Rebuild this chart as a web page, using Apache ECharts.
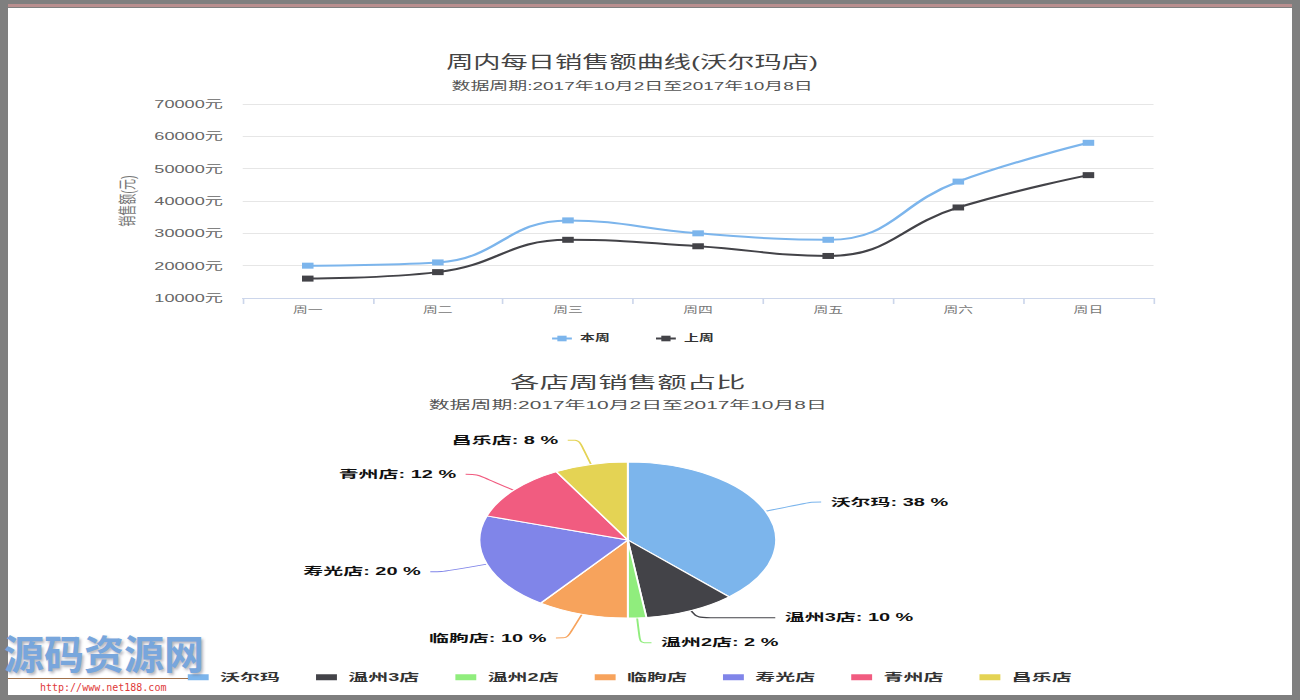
<!DOCTYPE html>
<html>
<head>
<meta charset="utf-8">
<script src="https://cdn.jsdelivr.net/npm/echarts/dist/echarts.min.js"></script>
<style>
html,body{margin:0;padding:0;width:1300px;height:700px;overflow:hidden;background:#7f7f7f;}
#panel{position:absolute;left:8px;top:8px;width:1284px;height:687px;background:#fff;}
#redline{position:absolute;left:8px;top:4px;width:1284px;height:3px;background:#b98f8f;}
#c1{position:absolute;left:-18px;top:0;width:788px;height:360px;transform:scaleX(1.65);transform-origin:0 0;}
#c2{position:absolute;left:-22px;top:355px;width:684px;height:345px;transform:scaleX(1.9);transform-origin:0 0;}
#wm{position:absolute;left:4px;top:628px;font-family:"Noto Sans CJK SC",sans-serif;font-weight:bold;font-size:40px;line-height:48px;color:#78a6dc;text-shadow:2px 2px 3px rgba(90,90,110,0.45);letter-spacing:0px;z-index:5;}
#wmline{position:absolute;left:8px;top:678px;width:180px;height:1px;background:#a0704a;z-index:5;}
#wmurl{position:absolute;left:40px;top:682px;font-family:"DejaVu Sans Mono",monospace;font-size:10px;line-height:12px;color:#e03a3a;z-index:5;}
</style>
</head>
<body>
<div id="redline"></div>
<div id="panel"></div>
<div id="c1"></div>
<div id="c2"></div>
<div id="wm">源码资源网</div>
<div id="wmline"></div>
<div id="wmurl">http://www.net188.com</div>
<script>
// ---- data ----
const lineTitle = '周内每日销售额曲线(沃尔玛店)';
const subTitle = '数据周期:2017年10月2日至2017年10月8日';
const days = ['周一', '周二', '周三', '周四', '周五', '周六', '周日'];
const seriesNames = ['本周', '上周'];
const thisWeek = [20000, 21000, 34000, 30000, 28000, 46000, 58000];
const lastWeek = [16000, 18000, 28000, 26000, 23000, 38000, 48000];
const yAxisName = '销售额(元)';
const yMin = 10000, yMax = 70000, yStep = 10000;

const pieTitle = '各店周销售额占比';
const stores = ['沃尔玛', '温州3店', '温州2店', '临朐店', '寿光店', '青州店', '昌乐店'];
const storeShare = [38, 10, 2, 10, 20, 12, 8];

const palette = ['#7cb5ec', '#434348', '#90ed7d', '#f7a35c', '#8085e9', '#f15c80', '#e4d354'];
const FF = '"Liberation Sans", "Noto Sans CJK SC", sans-serif';

// ---- line chart ----
const c1 = echarts.init(document.getElementById('c1'), null, {renderer: 'svg'});
c1.setOption({
  animation: false,
  color: [palette[0], palette[1]],
  textStyle: {fontFamily: FF},
  title: [
    {text: lineTitle, left: 'center', top: 49, textStyle: {fontSize: 16.5, fontWeight: 'normal', color: '#444', fontFamily: FF}},
    {text: subTitle, left: 'center', top: 75, textStyle: {fontSize: 11.5, fontWeight: 'normal', color: '#555', fontFamily: FF}}
  ],
  legend: {
    data: seriesNames, left: 'center', top: 329, itemWidth: 12, itemHeight: 7, itemGap: 27,
    textStyle: {fontSize: 9, fontWeight: 'bold', color: '#333'}
  },
  grid: {left: 158, right: 78, top: 104, bottom: 62, containLabel: false},
  xAxis: {
    type: 'category', data: days, boundaryGap: true,
    axisLine: {lineStyle: {color: '#ccd6eb'}},
    axisTick: {show: true, length: 6, lineStyle: {color: '#ccd6eb'}},
    axisLabel: {fontSize: 9, color: '#777', margin: 8}
  },
  yAxis: {
    type: 'value', min: yMin, max: yMax, interval: yStep,
    name: yAxisName, nameLocation: 'middle', nameGap: 55,
    nameTextStyle: {fontSize: 11, color: '#777'},
    axisLine: {show: false}, axisTick: {show: false},
    axisLabel: {fontSize: 11, color: '#666', margin: 12, formatter: v => v + '元'},
    splitLine: {lineStyle: {color: '#e6e6e6'}}
  },
  series: [
    {name: seriesNames[0], type: 'line', data: thisWeek, smooth: 0.45, symbol: 'rect', symbolSize: [7, 6],
     lineStyle: {width: 2}, itemStyle: {color: palette[0]}},
    {name: seriesNames[1], type: 'line', data: lastWeek, smooth: 0.45, symbol: 'rect', symbolSize: [7, 6],
     lineStyle: {width: 2}, itemStyle: {color: palette[1]}}
  ]
});

// ---- pie chart ----
// the label of 温州3店 sits closer to the slice with a longer horizontal connector, as in the source
const shortLeaderStore = '温州3店';
const c2 = echarts.init(document.getElementById('c2'), null, {renderer: 'svg'});
c2.setOption({
  animation: false,
  color: palette,
  textStyle: {fontFamily: FF},
  title: [
    {text: pieTitle, left: 'center', top: 15, textStyle: {fontSize: 15.5, fontWeight: 'normal', color: '#444', fontFamily: FF}},
    {text: subTitle, left: 'center', top: 39.5, textStyle: {fontSize: 11, fontWeight: 'normal', color: '#555', fontFamily: FF}}
  ],
  legend: {
    data: stores, left: 'center', top: 312, icon: 'rect', itemWidth: 13, itemHeight: 8, itemGap: 17,
    textStyle: {fontSize: 10.5, fontWeight: 'bold', color: '#333'}
  },
  series: [{
    type: 'pie', center: ['50%', 185], radius: 78, startAngle: 90, clockwise: true,
    data: stores.map((s, i) => {
      const d = {name: s, value: storeShare[i]};
      if (s === shortLeaderStore) d.labelLine = {length: 8, length2: 41};
      return d;
    }),
    itemStyle: {borderColor: '#fff', borderWidth: 1},
    label: {
      show: true, position: 'outside', fontSize: 10.5, fontWeight: 'bold', color: '#111',
      formatter: p => p.name + ': ' + Math.round(p.percent) + ' %'
    },
    labelLine: {show: true, length: 25, length2: 6, smooth: 0.3, lineStyle: {width: 1}},
    emphasis: {disabled: true}
  }]
});
</script>
</body>
</html>
